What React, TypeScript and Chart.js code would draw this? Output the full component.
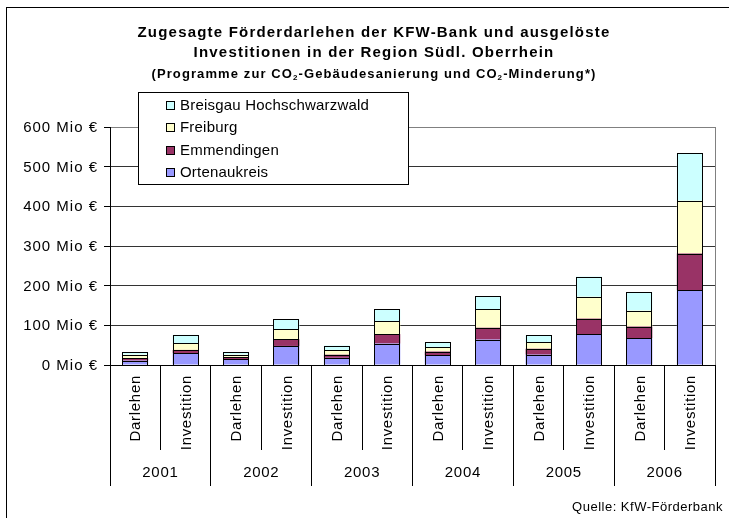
import React, { useEffect, useRef } from "react";
import { Chart, registerables } from "chart.js";

Chart.register(...registerables);

// ---- data ----
const years = ["2001", "2002", "2003", "2004", "2005", "2006"];
const kinds = ["Darlehen", "Investition"];
const categories = years.flatMap((y) => kinds.map((k) => `${k} ${y}`));
const categoryLabels = years.flatMap(() => kinds);

const seriesNames = ["Ortenaukreis", "Emmendingen", "Freiburg", "Breisgau Hochschwarzwald"];
const ortenaukreis = [11, 30, 15, 48, 18, 54, 24, 64, 26, 78, 68, 189];
const emmendingen = [6, 8, 4, 17, 8, 24, 10, 30, 15, 39, 29, 92];
const freiburg = [9, 17, 7, 25, 12, 32, 11, 46, 16, 55, 40, 133];
const breisgau = [6, 21, 6, 25, 11, 31, 12, 33, 18, 51, 46, 120];
const seriesColors = ["#9999FF", "#993366", "#FFFFCC", "#CCFFFF"];

const yMin = 0;
const yMax = 600;
const yStep = 100;
const yUnit = " Mio €";

const titleLines = [
  "Zugesagte Förderdarlehen der KFW-Bank und ausgelöste",
  "Investitionen in der Region Südl. Oberrhein",
];
const subtitleParts: { t: string; sub: boolean }[] = [
  { t: "(Programme zur CO", sub: false },
  { t: "2", sub: true },
  { t: "-Gebäudesanierung und CO", sub: false },
  { t: "2", sub: true },
  { t: "-Minderung*)", sub: false },
];
const sourceText = "Quelle: KfW-Förderbank";

const FONT = '"Liberation Sans", Arial, Helvetica, sans-serif';

const outlinePlugin = {
  id: "outline",
  afterDatasetsDraw(chart: any) {
    const ctx = chart.ctx;
    ctx.save();
    ctx.strokeStyle = "#000";
    ctx.lineWidth = 1;
    chart.data.datasets.forEach((_d: any, i: number) => {
      const meta = chart.getDatasetMeta(i);
      meta.data.forEach((el: any) => {
        const p = el.getProps(["x", "y", "base", "width"], true);
        const l = Math.round(p.x - p.width / 2);
        const r = Math.round(p.x + p.width / 2);
        const t = Math.round(Math.min(p.y, p.base));
        const b = Math.round(Math.max(p.y, p.base));
        ctx.strokeRect(l + 0.5, t + 0.5, r - l - 1, b - t);
      });
    });
    ctx.restore();
  },
};

const overlayPlugin = {
  id: "overlay",
  afterDraw(chart: any) {
    const { ctx, chartArea, scales } = chart;
    const xs = scales.x;
    const ys = scales.y;
    ctx.save();
    ctx.lineWidth = 1;

    // outer frame
    ctx.strokeStyle = "#000";
    ctx.strokeRect(6.5, 7.5, 800, 600);

    // plot area right border
    ctx.strokeStyle = "#808080";
    ctx.beginPath();
    const rx = Math.round(chartArea.right) + 0.5;
    ctx.moveTo(rx, chartArea.top);
    ctx.lineTo(rx, chartArea.bottom);
    ctx.stroke();

    // y tick labels
    ctx.fillStyle = "#000";
    ctx.font = `15px ${FONT}`;
    (ctx as any).letterSpacing = "1px";
    ctx.textAlign = "right";
    ctx.textBaseline = "middle";
    for (let v = yMin; v <= yMax; v += yStep) {
      ctx.fillText(`${v}${yUnit}`, 98, ys.getPixelForValue(v) + 1);
    }

    // titles
    ctx.textAlign = "center";
    ctx.font = `bold 15px ${FONT}`;
    (ctx as any).letterSpacing = "1.2px";
    ctx.fillText(titleLines[0], 374, 33);
    ctx.fillText(titleLines[1], 374, 53);

    // subtitle with subscripts
    (ctx as any).letterSpacing = "1.1px";
    const mainFont = `bold 13px ${FONT}`;
    const subFont = `bold 8px ${FONT}`;
    let total = 0;
    for (const p of subtitleParts) {
      ctx.font = p.sub ? subFont : mainFont;
      total += ctx.measureText(p.t).width;
    }
    let sx = 374 - total / 2;
    ctx.textAlign = "left";
    for (const p of subtitleParts) {
      ctx.font = p.sub ? subFont : mainFont;
      ctx.fillText(p.t, sx, p.sub ? 78 : 74);
      sx += ctx.measureText(p.t).width;
    }

    // legend
    const lx = 138.5, ly = 92.5, lw = 270, lh = 92;
    ctx.fillStyle = "#fff";
    ctx.fillRect(lx, ly, lw, lh);
    ctx.strokeStyle = "#000";
    ctx.strokeRect(lx, ly, lw, lh);
    const rows = [104.5, 127, 149.5, 172];
    const ds = chart.data.datasets;
    ctx.font = `15px ${FONT}`;
    (ctx as any).letterSpacing = "0.2px";
    ctx.textBaseline = "middle";
    for (let r = 0; r < ds.length; r++) {
      const d = ds[ds.length - 1 - r];
      const cy = rows[r];
      const sy = Math.round(cy - 4) + 0.5;
      ctx.fillStyle = d.backgroundColor;
      ctx.fillRect(166.5, sy, 8, 8);
      ctx.strokeStyle = "#000";
      ctx.strokeRect(166.5, sy, 8, 8);
      ctx.fillStyle = "#000";
      ctx.fillText(d.label, 180, cy + 1);
    }

    // x axis labels and separators
    const n = categories.length;
    const w = (xs.getPixelForValue(n - 1) - xs.getPixelForValue(0)) / (n - 1);
    const bottom = chartArea.bottom;
    ctx.strokeStyle = "#000";
    for (let j = 0; j <= n; j++) {
      const bx = Math.round(xs.getPixelForValue(0) - w / 2 + j * w - 0.5) + 0.5;
      const len = j % 2 === 0 ? 486 : 450;
      ctx.beginPath();
      ctx.moveTo(bx, bottom);
      ctx.lineTo(bx, len);
      ctx.stroke();
    }
    ctx.font = `15px ${FONT}`;
    (ctx as any).letterSpacing = "0.7px";
    ctx.fillStyle = "#000";
    for (let i = 0; i < n; i++) {
      const cx = xs.getPixelForValue(i);
      ctx.save();
      ctx.translate(cx + 1, 375);
      ctx.rotate(-Math.PI / 2);
      ctx.textAlign = "right";
      ctx.textBaseline = "middle";
      ctx.fillText(categoryLabels[i], 0, 0);
      ctx.restore();
    }
    ctx.textAlign = "center";
    ctx.textBaseline = "middle";
    for (let k = 0; k < years.length; k++) {
      const cx = (xs.getPixelForValue(2 * k) + xs.getPixelForValue(2 * k + 1)) / 2;
      ctx.fillText(years[k], cx, 473);
    }

    // source
    ctx.font = `13px ${FONT}`;
    (ctx as any).letterSpacing = "0.5px";
    ctx.textAlign = "right";
    ctx.fillText(sourceText, 723, 507);

    ctx.restore();
  },
};

export default function App() {
  const ref = useRef<HTMLCanvasElement | null>(null);

  useEffect(() => {
    if (!ref.current) return;
    const values = [ortenaukreis, emmendingen, freiburg, breisgau];
    const chart = new Chart(ref.current, {
      type: "bar",
      data: {
        labels: categories,
        datasets: values.map((v, i) => ({
          label: seriesNames[i],
          data: v,
          backgroundColor: seriesColors[i],
          borderWidth: 0,
          barPercentage: 0.515,
          categoryPercentage: 1,
        })),
      },
      options: {
        responsive: false,
        animation: false,
        layout: { padding: { top: 127, right: 14, left: 0, bottom: 0 } },
        plugins: {
          legend: { display: false },
          title: { display: false },
          tooltip: { enabled: false },
        },
        scales: {
          x: {
            stacked: true,
            grid: { display: false },
            border: { display: true, color: "#000" },
            ticks: { display: false },
            afterFit: (s: any) => {
              s.height = 153;
            },
          },
          y: {
            stacked: true,
            min: yMin,
            max: yMax,
            ticks: {
              display: false,
              stepSize: yStep,
            },
            grid: {
              color: (c: any) => (c.tick && c.tick.value === yMax ? "#808080" : "#333"),
              tickColor: "#000",
              tickLength: 6,
              drawTicks: true,
              lineWidth: 1,
            },
            border: { display: true, color: "#000" },
            afterFit: (s: any) => {
              s.width = 110;
            },
          },
        },
      },
      plugins: [outlinePlugin, overlayPlugin],
    } as any);
    return () => chart.destroy();
  }, []);

  return (
    <div style={{ position: "absolute", left: 0, top: 0, width: 729, height: 518, background: "#fff" }}>
      <canvas ref={ref} width={729} height={518} style={{ display: "block" }} />
    </div>
  );
}
